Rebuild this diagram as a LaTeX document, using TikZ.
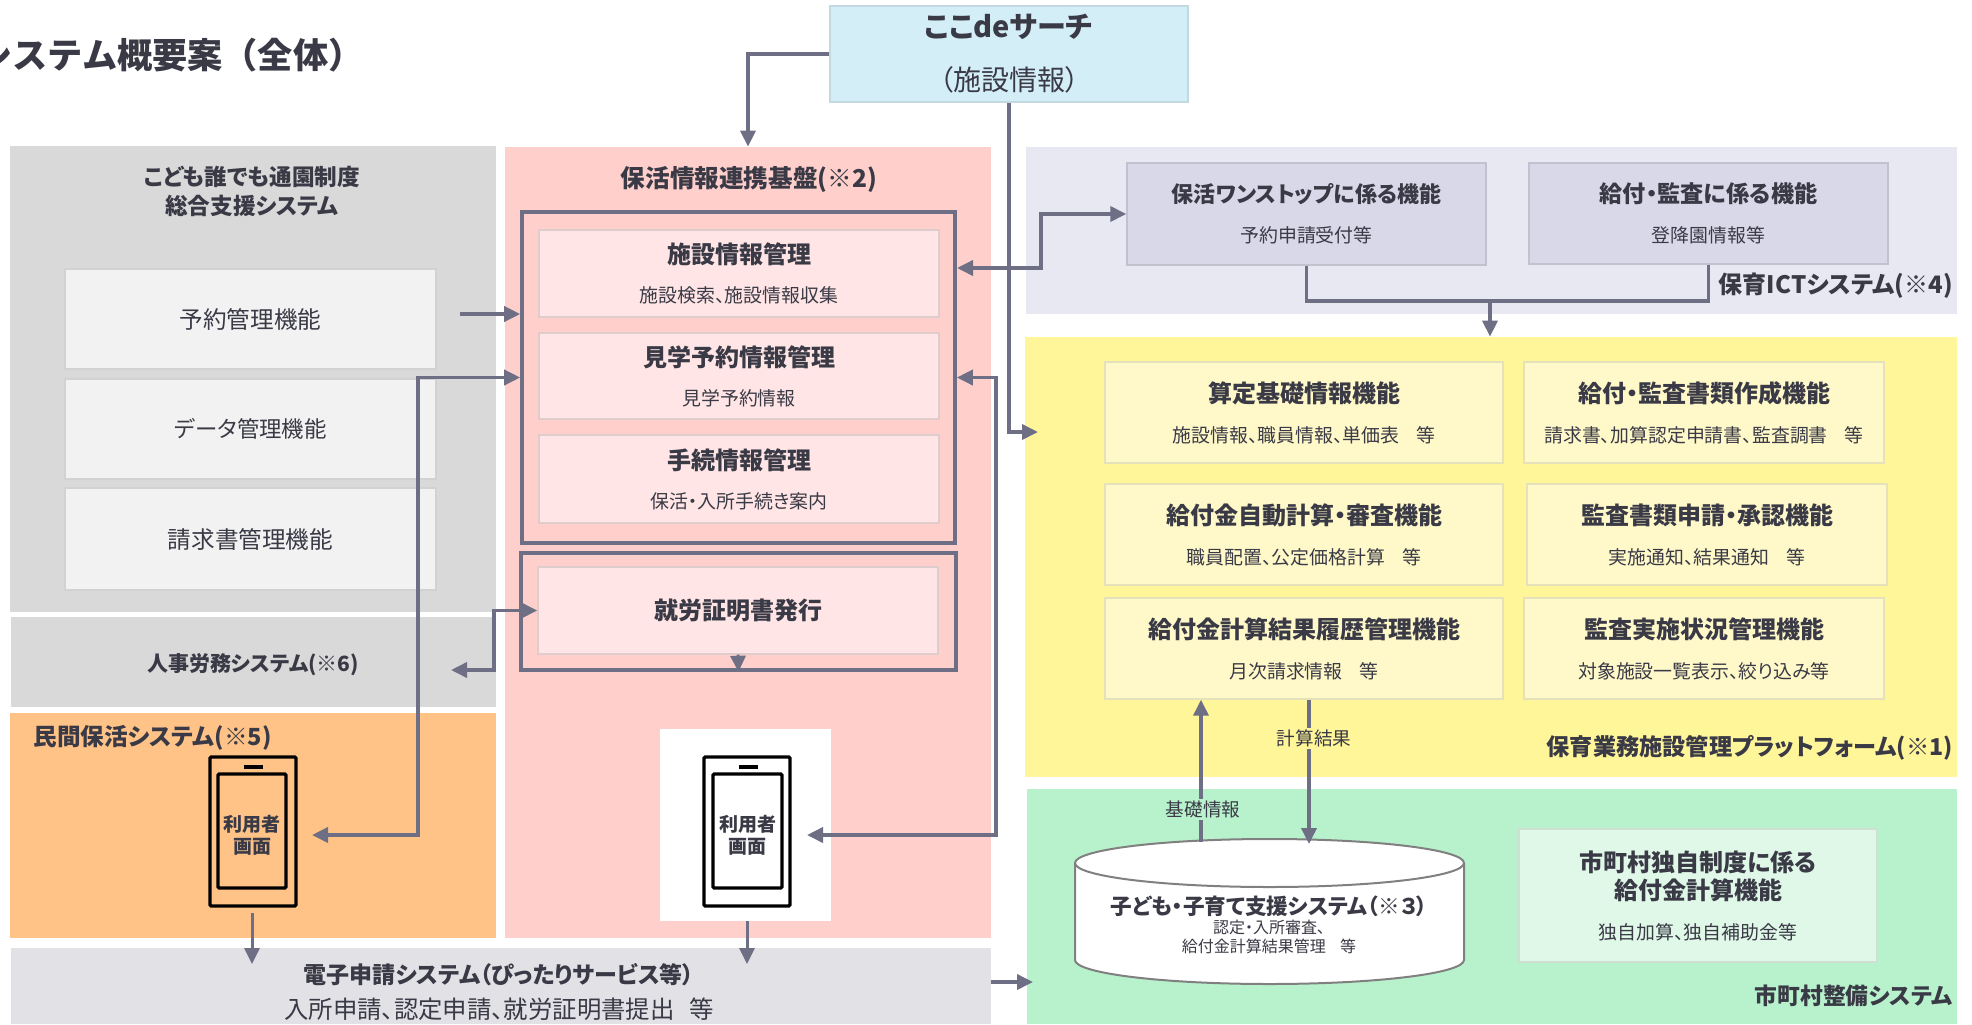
\documentclass[tikz,border=0pt]{standalone}
\usepackage{fontspec}
\setmainfont{Noto Sans CJK JP}[RawFeature=+palt]
\newfontfamily\fullfont{Noto Sans CJK JP}
\usetikzlibrary{arrows.meta}
\definecolor{ink}{HTML}{3A3A46}
\definecolor{conn}{HTML}{6E6E85}
\definecolor{grayp}{HTML}{D9D9D9}
\definecolor{pinkp}{HTML}{FFCFCB}
\definecolor{pinkb}{HTML}{FFE5E5}
\definecolor{orangep}{HTML}{FFC388}
\definecolor{bluep}{HTML}{D4EEF8}
\definecolor{slatep}{HTML}{E1E1E6}
\definecolor{ictp}{HTML}{E8E8F2}
\definecolor{ictb}{HTML}{D8D8E8}
\definecolor{yellowp}{HTML}{FFF599}
\definecolor{yellowb}{HTML}{FFF9C9}
\definecolor{greenp}{HTML}{B8F2CC}
\definecolor{greenb}{HTML}{E0F8E8}
\newcommand{\headtxt}[1]{{\fontsize{12}{14}\selectfont\bfseries #1}}
\newcommand{\subtxt}[1]{{\fontsize{9.45}{11}\selectfont #1}}
\newcommand{\etcgap}{\hspace{.9em}}
\tikzset{
  panel/.style={inner sep=0pt,text=ink},
  box/.style={draw=#1,line width=.7pt,inner sep=0pt,align=center,text=ink},
  ptitle/.style={inner sep=0pt,align=center,text=ink,font=\fontsize{11.2}{14}\selectfont\bfseries},
  frame/.style={draw=conn,line width=1.8pt,inner sep=0pt},
  link/.style={draw=conn,line width=1.8pt},
  thinlink/.style={draw=conn,line width=1.5pt},
  phone/.style={draw=black,line width=1.7pt,rounded corners=.6pt,inner sep=0pt},
  cylline/.style={draw=gray,line width=1pt,fill=white},
  lab/.style={inner sep=1pt,text=ink,font=\fontsize{9.3}{11}\selectfont}
}
\begin{document}
\begin{tikzpicture}[x=.5pt,y=-.5pt,>={Triangle[length=8pt,width=7.5pt]}]
  \useasboundingbox (0,0) rectangle (1972,1024);
  % panels
  \node[panel,fill=grayp,minimum width=243pt,minimum height=233pt] (sogo) at (253,379) {};
  \node[panel,fill=pinkp,minimum width=243pt,minimum height=395.5pt] (kiban) at (748,542.5) {};
  \node[panel,fill=grayp,minimum width=242.5pt,minimum height=45pt] (jinji) at (253.5,662) {};
  \node[panel,fill=orangep,minimum width=243pt,minimum height=112.5pt] (minkan) at (253,825.5) {};
  \node[panel,fill=slatep,minimum width=490pt,minimum height=38pt] (denshi) at (501,986) {};
  \node[panel,fill=ictp,minimum width=465.5pt,minimum height=83.5pt] (ict) at (1491.5,230.5) {};
  \node[panel,fill=yellowp,minimum width=466pt,minimum height=220pt] (hoiku) at (1491,557) {};
  \node[panel,fill=greenp,minimum width=465pt,minimum height=117.5pt] (shicho) at (1492,906.5) {};
  % title and panel labels
  \node[anchor=east,inner sep=0pt,text=ink,font=\fontsize{17.6}{20}\selectfont\fullfont\bfseries] (title) at (364,55) {システム概要案（全体）};
  \node[ptitle,font=\fontsize{11.3}{14.5}\selectfont\bfseries] (sogot) at (252,191) {こども誰でも通園制度\\総合支援システム};
  \node[ptitle,font=\fontsize{12.3}{14}\selectfont\bfseries] (kibant) at (749,179) {保活情報連携基盤(※2)};
  \node[ptitle,font=\fontsize{10.5}{12}\selectfont\bfseries] (jinjit) at (253,665) {人事労務システム(※6)};
  \node[ptitle,anchor=west,font=\fontsize{11.8}{14}\selectfont\bfseries] (minkant) at (33,738) {民間保活システム(※5)};
  \node[ptitle,anchor=east,font=\fontsize{12}{14}\selectfont\bfseries] (ictt) at (1953,286) {保育ICTシステム(※4)};
  \node[ptitle,anchor=east,font=\fontsize{11.6}{14}\selectfont\bfseries] (hoikut) at (1953,748) {保育業務施設管理プラットフォーム(※1)};
  \node[ptitle,anchor=east,font=\fontsize{11.4}{14}\selectfont\bfseries] (shichot) at (1953,996) {市町村整備システム};
  \node[inner sep=0pt,align=center,text=ink] (denshit) at (499,992) {{\fontsize{11.5}{13}\selectfont\bfseries 電子申請システム（ぴったりサービス等）}\\[5.5pt]{\fontsize{12.2}{13}\selectfont 入所申請、認定申請、就労証明書提出\hspace{.6em}等}};
  % top box
  \node[box=bluep!80!gray,fill=bluep,minimum width=179pt,minimum height=48pt] (coco) at (1009,54) {{\fontsize{14.5}{16}\selectfont\bfseries ここdeサーチ}\\[12.5pt]{\fontsize{14}{16}\selectfont （施設情報）}};
  % left boxes
  \node[box=gray!35,fill=gray!10,minimum width=185.5pt,minimum height=50pt,font=\fontsize{11.8}{14}\selectfont] (yoyaku) at (250.5,319) {予約管理機能};
  \node[box=gray!35,fill=gray!10,minimum width=185.5pt,minimum height=50pt,font=\fontsize{11.2}{14}\selectfont] (datakanri) at (250.5,429) {データ管理機能};
  \node[box=gray!35,fill=gray!10,minimum width=185.5pt,minimum height=51pt,font=\fontsize{11.8}{14}\selectfont] (seikyu) at (250.5,539) {請求書管理機能};
  % middle boxes
  \node[frame,minimum width=216.5pt,minimum height=165.5pt] (frameA) at (738.5,377.5) {};
  \node[frame,minimum width=217.5pt,minimum height=58.5pt] (frameB) at (738.5,611.5) {};
  \node[box=pinkb!75!gray,fill=pinkb,minimum width=200pt,minimum height=43.5pt] (shisetsu) at (739,273.5) {\headtxt{施設情報管理}\\[7.5pt]\subtxt{施設検索、施設情報収集}};
  \node[box=pinkb!75!gray,fill=pinkb,minimum width=200pt,minimum height=43pt] (kengaku) at (739,376) {\headtxt{見学予約情報管理}\\[7.5pt]\subtxt{見学予約情報}};
  \node[box=pinkb!75!gray,fill=pinkb,minimum width=200pt,minimum height=44pt] (tetsuzuki) at (739,479) {\headtxt{手続情報管理}\\[7.5pt]\subtxt{保活・入所手続き案内}};
  \node[box=pinkb!75!gray,fill=pinkb,minimum width=200pt,minimum height=43.5pt] (shomei) at (738,610.5) {\headtxt{就労証明書発行}};
  \node[fill=white,minimum width=85.5pt,minimum height=96pt,inner sep=0pt] (whitebg) at (745.5,825) {};
  % phones
  \node[phone,minimum width=43pt,minimum height=74.5pt] (phoneL) at (253,831.5) {};
  \node[phone,minimum width=34pt,minimum height=57pt,align=center,text=ink,font=\fontsize{9.5}{11}\selectfont\bfseries] (screenL) at (252,831) {\\[1pt]利用者\\画面};
  \node[fill=black,minimum width=9.5pt,minimum height=1.8pt,inner sep=0pt] (speakL) at (253.5,767) {};
  \node[phone,minimum width=43pt,minimum height=74.5pt] (phoneR) at (747,831.5) {};
  \node[phone,minimum width=34.5pt,minimum height=57pt,align=center,text=ink,font=\fontsize{9.5}{11}\selectfont\bfseries] (screenR) at (747.5,831) {\\[1pt]利用者\\画面};
  \node[fill=black,minimum width=9.5pt,minimum height=1.8pt,inner sep=0pt] (speakR) at (748.5,767) {};
  % ict boxes
  \node[box=ictb!75!gray,fill=ictb,minimum width=179.5pt,minimum height=51pt] (ictA) at (1306.5,214) {{\fontsize{11}{14}\selectfont\bfseries 保活ワンストップに係る機能}\\[8pt]\subtxt{予約申請受付等}};
  \node[box=ictb!75!gray,fill=ictb,minimum width=179.5pt,minimum height=50.5pt] (ictB) at (1708.5,213.5) {{\fontsize{11.6}{14}\selectfont\bfseries 給付・監査に係る機能}\\[8pt]\subtxt{登降園情報等}};
  % platform boxes
  \node[box=yellowb!80!gray,fill=yellowb,minimum width=199pt,minimum height=50.5pt] (santei) at (1304,412.5) {\headtxt{算定基礎情報機能}\\[8pt]\subtxt{施設情報、職員情報、単価表\etcgap 等}};
  \node[box=yellowb!80!gray,fill=yellowb,minimum width=180pt,minimum height=50.5pt] (sakusei) at (1704,412.5) {\headtxt{給付・監査書類作成機能}\\[8pt]\subtxt{請求書、加算認定申請書、監査調書\etcgap 等}};
  \node[box=yellowb!80!gray,fill=yellowb,minimum width=199pt,minimum height=50.5pt] (jidou) at (1304,534.5) {\headtxt{給付金自動計算・審査機能}\\[8pt]\subtxt{職員配置、公定価格計算\etcgap 等}};
  \node[box=yellowb!80!gray,fill=yellowb,minimum width=180pt,minimum height=50.5pt] (shonin) at (1707,534.5) {\headtxt{監査書類申請・承認機能}\\[8pt]\subtxt{実施通知、結果通知\etcgap 等}};
  \node[box=yellowb!80!gray,fill=yellowb,minimum width=199pt,minimum height=50.5pt] (rireki) at (1304,648.5) {\headtxt{給付金計算結果履歴管理機能}\\[8pt]\subtxt{月次請求情報\etcgap 等}};
  \node[box=yellowb!80!gray,fill=yellowb,minimum width=180pt,minimum height=50.5pt] (jisshi) at (1704,648.5) {\headtxt{監査実施状況管理機能}\\[8pt]\subtxt{対象施設一覧表示、絞り込み等}};
  % municipal
  \draw[cylline] (1075,863) -- (1075,960) arc[start angle=180,end angle=0,x radius=194.5,y radius=24] -- (1464,863);
  \draw[cylline] (1269.5,863) ellipse [x radius=194.5,y radius=24];
  \node[inner sep=0pt,align=center,text=ink] (cylt) at (1269,925) {{\fontsize{10.8}{13}\selectfont\bfseries 子ども・子育て支援システム（※３）}\\[-2.5pt]{\fontsize{8}{9.5}\selectfont 認定・入所審査、}\\[-2.5pt]{\fontsize{8}{9.5}\selectfont 給付金計算結果管理\etcgap 等}};
  \node[box=greenb!80!gray,fill=greenb,minimum width=179pt,minimum height=66.5pt] (dokuji) at (1698,895.5) {\headtxt{市町村独自制度に係る}\\[2pt]\headtxt{給付金計算機能}\\[8pt]\subtxt{独自加算、独自補助金等}};
  % free ends
  \coordinate (yoyakuOut) at (460,314);
  \coordinate (leftbus) at (418,835);
  \coordinate (phoneLtip) at (312,835);
  \coordinate (rightbus) at (996,835);
  \coordinate (phoneRtip) at (807,835);
  \coordinate (frameAtop) at (957,268);
  \coordinate (ictbend) at (1041,268);
  \coordinate (workbend) at (494,670);
  \coordinate (jinjiTip) at (451,670);
  \coordinate (ictjoin) at (1490,301);
  \coordinate (hoikuTip) at (1038,432);
  \coordinate (phoneLout) at (252,913);
  \coordinate (denshiL) at (252,964);
  \coordinate (denshiR) at (747,964);
  \coordinate (denshiOut) at (991,982);
  \coordinate (shichoTip) at (1033,982);
  \coordinate (kisoFoot) at (1201,842);
  \coordinate (kekkaTip) at (1309,844);
  % connectors
  \draw[link,->] (coco.west) -| (kiban.north);
  \draw[link,->] (coco.south) |- (hoikuTip);
  \draw[link,->] (yoyakuOut) -- (frameA.west |- yoyakuOut);
  \draw[link,<->] (frameA.west) -| (leftbus) -- (phoneLtip);
  \draw[link,<->] (frameA.east) -| (rightbus) -- (phoneRtip);
  \draw[link,<->] (frameAtop) -- (ictbend) |- (ictA.west);
  \draw[link,<->] (shomei.west) -| (workbend) -- (jinjiTip);
  \draw[thinlink,->] (shomei.south) -- (frameB.south);
  \draw[link] (ictA.south) |- (ictjoin);
  \draw[link] (ictB.south) |- (ictjoin);
  \draw[link,->] (ictjoin) -- (hoiku.north -| ictjoin);
  \draw[thinlink,->] (phoneLout) -- (denshiL);
  \draw[thinlink,->] (whitebg.south -| denshiR) -- (denshiR);
  \draw[link,->] (denshiOut) -- (shichoTip);
  \draw[link,->] (kisoFoot) -- node[lab,fill=greenp,pos=.23,xshift=1pt]{基礎情報} (rireki.south -| kisoFoot);
  \draw[link,->] (rireki.south -| kekkaTip) -- node[lab,fill=yellowp,pos=.27,xshift=2.5pt]{計算結果} (kekkaTip);
\end{tikzpicture}
\end{document}
